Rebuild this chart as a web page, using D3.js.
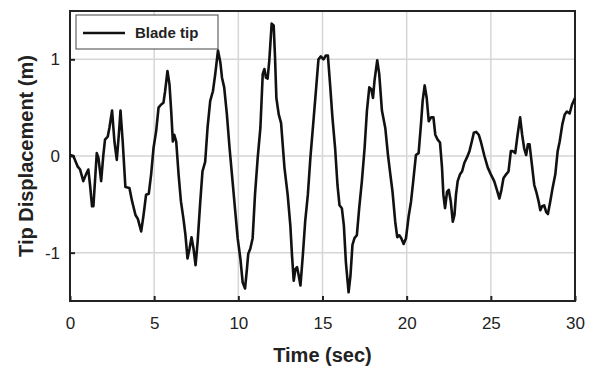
<!DOCTYPE html>
<html>
<head>
<meta charset="utf-8">
<script src="https://cdn.jsdelivr.net/npm/d3@7"></script>
<style>
  body { margin: 0; background: #fff; }
  text { font-family: "Liberation Sans", Arial, sans-serif; }
</style>
</head>
<body>
<div id="chart"></div>
<script>
"use strict"

// time (sec) and blade tip displacement (m)
const time = [0, 0.2, 0.46, 0.6, 0.79, 0.95, 1.09, 1.19, 1.31, 1.39, 1.59, 1.69, 1.85, 1.98, 2.08, 2.24, 2.34, 2.5, 2.64, 2.78, 2.9, 3.0, 3.13, 3.29, 3.53, 3.69, 3.89, 4.03, 4.23, 4.37, 4.52, 4.68, 4.82, 4.96,
  5.12, 5.26, 5.4, 5.55, 5.65, 5.79, 5.91, 6.01, 6.11, 6.19, 6.31, 6.45, 6.59, 6.74, 6.86, 6.98, 7.1, 7.22, 7.34, 7.46, 7.58, 7.74, 7.87, 8.03, 8.17, 8.33, 8.49, 8.63, 8.79, 8.93, 9.03, 9.16, 9.32, 9.48, 9.64, 9.82,
  9.96, 10.12, 10.26, 10.4, 10.51, 10.59, 10.71, 10.85, 10.99, 11.15, 11.31, 11.45, 11.55, 11.64, 11.74, 11.84, 11.98, 12.1, 12.18, 12.26, 12.4, 12.54, 12.74, 12.93, 13.09, 13.19, 13.29, 13.39, 13.49, 13.59, 13.69, 13.83, 13.97, 14.13, 14.28, 14.48, 14.64, 14.76, 14.9,
  15.06, 15.2, 15.32, 15.45, 15.59, 15.75, 15.89, 16.01, 16.15, 16.27, 16.39, 16.55, 16.66, 16.78, 16.9, 17.04, 17.18, 17.34, 17.5, 17.64, 17.78, 17.9, 18.0, 18.09, 18.25, 18.37, 18.53, 18.73, 18.89, 19.03, 19.16, 19.32, 19.44, 19.56, 19.68, 19.82,
  19.96, 20.12, 20.26, 20.39, 20.55, 20.71, 20.85, 20.95, 21.07, 21.19, 21.31, 21.45, 21.59, 21.7, 21.84, 21.98, 22.1, 22.18, 22.28, 22.4, 22.5, 22.62, 22.74, 22.84, 22.93, 23.03, 23.17, 23.29, 23.43, 23.57, 23.73, 23.87, 23.99, 24.13, 24.28, 24.42, 24.62, 24.82,
  25.0, 25.2, 25.36, 25.51, 25.63, 25.75, 25.91, 26.05, 26.19, 26.31, 26.45, 26.59, 26.74, 26.86, 26.98, 27.1, 27.2, 27.3, 27.44, 27.58, 27.7, 27.84, 27.94, 28.05, 28.17, 28.29, 28.39, 28.53, 28.67, 28.83, 28.97, 29.09, 29.25, 29.39, 29.52, 29.68, 29.82, 30];
const tip = [0.01, 0, -0.11, -0.14, -0.26, -0.19, -0.14, -0.3, -0.52, -0.52, 0.03, -0.02, -0.26, 0.01, 0.17, 0.2, 0.29, 0.47, 0.15, -0.04, 0.22, 0.47, 0.15, -0.32, -0.33, -0.47, -0.61, -0.65, -0.78, -0.61, -0.4, -0.39, -0.19, 0.08,
  0.26, 0.5, 0.53, 0.55, 0.67, 0.88, 0.74, 0.47, 0.15, 0.22, 0.15, -0.19, -0.47, -0.65, -0.82, -1.06, -0.96, -0.84, -0.96, -1.13, -0.89, -0.47, -0.16, -0.06, 0.29, 0.57, 0.67, 0.85, 1.09, 0.97, 0.81, 0.71, 0.43, 0.08, -0.23, -0.58,
  -0.85, -1.06, -1.31, -1.37, -1.17, -1.01, -0.96, -0.85, -0.4, -0.02, 0.29, 0.85, 0.9, 0.81, 0.8, 0.99, 1.37, 1.35, 1.02, 0.6, 0.43, 0.34, -0.12, -0.4, -0.72, -1.03, -1.29, -1.17, -1.15, -1.24, -1.34, -1.03, -0.68, -0.4, -0.02, 0.4, 0.74, 1.0, 1.03,
  1.0, 1.04, 1.04, 0.74, 0.4, 0.08, -0.3, -0.51, -0.54, -0.72, -1.1, -1.41, -1.24, -0.92, -0.85, -0.82, -0.54, -0.26, 0.08, 0.47, 0.71, 0.69, 0.6, 0.78, 0.99, 0.85, 0.47, 0.29, 0.01, -0.19, -0.37, -0.68, -0.84, -0.82, -0.85, -0.91,
  -0.85, -0.62, -0.47, -0.26, 0.01, 0.03, 0.33, 0.57, 0.73, 0.6, 0.36, 0.4, 0.4, 0.22, 0.17, 0.14, -0.12, -0.4, -0.54, -0.37, -0.35, -0.47, -0.68, -0.61, -0.4, -0.26, -0.19, -0.16, -0.07, -0.02, 0.05, 0.15, 0.24, 0.25, 0.22, 0.14, 0.0, -0.12,
  -0.19, -0.26, -0.35, -0.44, -0.35, -0.23, -0.19, -0.16, 0.05, 0.05, 0.03, 0.22, 0.4, 0.22, 0.08, 0.01, 0.12, 0.12, -0.09, -0.3, -0.37, -0.47, -0.56, -0.52, -0.51, -0.58, -0.6, -0.47, -0.33, -0.19, 0.05, 0.15, 0.33, 0.43, 0.46, 0.44, 0.53, 0.6];

const xTicks = [0, 5, 10, 15, 20, 25, 30];
const yTicks = [-1, 0, 1];
const seriesName = "Blade tip";

const width = 596, height = 372;
const margin = {top: 11, right: 21, bottom: 71, left: 70};
const innerW = width - margin.left - margin.right,
      innerH = height - margin.top - margin.bottom;

const svg = d3.select("#chart").append("svg")
    .attr("width", width)
    .attr("height", height);

const g = svg.append("g")
    .attr("transform", "translate(" + margin.left + "," + margin.top + ")");

const x = d3.scaleLinear().domain([0, 30]).range([0, innerW]);
const y = d3.scaleLinear().domain([-1.5, 1.5]).range([innerH, 0]);

// grid lines
g.selectAll(".vgrid").data(xTicks.slice(1, -1)).enter().append("line")
    .attr("x1", d => x(d)).attr("x2", d => x(d))
    .attr("y1", 0).attr("y2", innerH)
    .attr("stroke", "#d6d6d6").attr("stroke-width", 1.5);
g.selectAll(".hgrid").data(yTicks).enter().append("line")
    .attr("y1", d => y(d)).attr("y2", d => y(d))
    .attr("x1", 0).attr("x2", innerW)
    .attr("stroke", "#d6d6d6").attr("stroke-width", 1.5);

// axes with inward ticks
const xAxis = g.append("g")
    .attr("transform", "translate(0," + innerH + ")")
    .call(d3.axisBottom(x).tickValues(xTicks).tickSizeInner(-5).tickSizeOuter(0).tickPadding(16));
const yAxis = g.append("g")
    .call(d3.axisLeft(y).tickValues(yTicks).tickSizeInner(-5).tickSizeOuter(0).tickPadding(10)
      .tickFormat(d => d < 0 ? "-" + Math.abs(d) : d));

[xAxis, yAxis].forEach(function(a) {
  a.select(".domain").remove();
  a.selectAll(".tick line").attr("stroke", "#222").attr("stroke-width", 2);
  a.selectAll(".tick text")
    .attr("font-family", "'Liberation Sans', Arial, sans-serif")
    .attr("font-size", 17).attr("fill", "#222");
});

// frame
g.append("rect")
    .attr("width", innerW).attr("height", innerH)
    .attr("fill", "none").attr("stroke", "#222").attr("stroke-width", 2);

// the curve
const line = d3.line()
    .x((d, i) => x(time[i]))
    .y(d => y(d));
g.append("path")
    .datum(tip)
    .attr("d", line)
    .attr("fill", "none")
    .attr("stroke", "#111")
    .attr("stroke-width", 2.6)
    .attr("stroke-linejoin", "round");

// legend
const legend = g.append("g").attr("transform", "translate(6,4)");
legend.append("rect")
    .attr("width", 142).attr("height", 34)
    .attr("fill", "#fff").attr("stroke", "#444").attr("stroke-width", 1);
legend.append("line")
    .attr("x1", 7).attr("x2", 49).attr("y1", 18).attr("y2", 18)
    .attr("stroke", "#111").attr("stroke-width", 2.6);
legend.append("text")
    .attr("x", 59).attr("y", 23)
    .attr("font-size", 15).attr("font-weight", "bold").attr("fill", "#222")
    .text(seriesName);

// axis titles
svg.append("text")
    .attr("x", margin.left + innerW / 2).attr("y", 362)
    .attr("text-anchor", "middle")
    .attr("font-size", 20).attr("font-weight", "bold").attr("fill", "#222")
    .text("Time (sec)");
svg.append("text")
    .attr("transform", "translate(33," + (margin.top + innerH / 2) + ") rotate(-90)")
    .attr("text-anchor", "middle")
    .attr("font-size", 20).attr("font-weight", "bold").attr("fill", "#222")
    .text("Tip Displacement (m)");
</script>
</body>
</html>
